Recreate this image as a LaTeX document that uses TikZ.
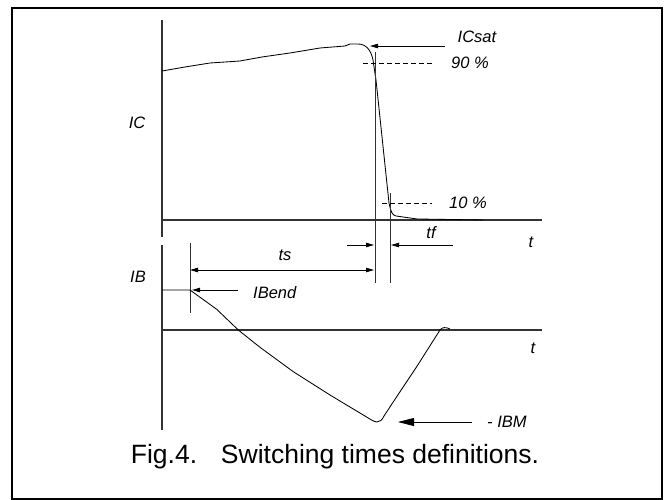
\documentclass[tikz,border=0pt]{standalone}
\usepackage{fontspec}
\setmainfont{Liberation Sans}
\usetikzlibrary{arrows.meta}
\begin{document}
\begin{tikzpicture}[x=1pt,y=-1pt,
  axis/.style={line width=1.1pt,draw=black!80},
  curve/.style={line width=0.85pt,black},
  marker/.style={line width=0.9pt,draw=black!80},
  dashline/.style={line width=0.8pt,dash pattern=on 5pt off 3pt},
  arr/.style={line width=0.8pt,-{Triangle[length=8pt,width=4.5pt]}},
  bigarr/.style={line width=0.8pt,-{Triangle[length=16pt,width=8pt]}},
  lbl/.style={font=\fontsize{16.5}{18}\selectfont\itshape,inner sep=0pt},
  captext/.style={font=\fontsize{26.5}{29}\selectfont,inner sep=0pt,anchor=base}]
\useasboundingbox (0,0) rectangle (665,500);
\fill[white] (0,0) rectangle (665,500);
\node[draw,line width=2pt,minimum width=650pt,minimum height=491pt,anchor=north west,inner sep=0pt] (frame) at (11,7) {};

% axes
\coordinate (ica0) at (162,20);
\coordinate (ica1) at (162,237);
\coordinate (ith0) at (162,220);
\coordinate (ith1) at (542,220);
\coordinate (iba0) at (162,245);
\coordinate (iba1) at (162,430);
\coordinate (ibh0) at (162,330);
\coordinate (ibh1) at (542,330);
\draw[axis] (ica0) -- (ica1);
\draw[axis] (ith0) -- (ith1);
\draw[axis] (iba0) -- (iba1);
\draw[axis] (ibh0) -- (ibh1);

% IC curve
\draw[curve] (162,71) -- (185,67) -- (210,63) -- (240,61) -- (262,57) -- (290,53) -- (320,48) -- (345,46) -- (350,44) -- (358,44)
  .. controls (366,44) and (371,50) .. (373,60) -- (376,80) -- (389,203) .. controls (391,212) and (392,215) .. (396,216) -- (417,219) -- (483,220);

% marker lines
\coordinate (v1t) at (375,52);
\coordinate (v1b) at (375,283);
\coordinate (v2t) at (390,193);
\coordinate (v2b) at (390,283);
\draw[marker] (v1t) -- (v1b);
\draw[marker] (v2t) -- (v2b);

% dashed levels
\coordinate (d90a) at (363,63);
\coordinate (d90b) at (432,63);
\coordinate (d10a) at (382,203);
\coordinate (d10b) at (432,203);
\draw[dashline] (d90a) -- (d90b);
\draw[dashline] (d10a) -- (d10b);

% labels
\node[lbl] (icsat) at (477,37) {ICsat};
\node[lbl] (p90) at (470,63) {90 \%};
\node[lbl] (p10) at (468,203) {10 \%};
\node[lbl] (ic) at (137,123) {IC};
\node[lbl] (ib) at (138,277) {IB};
\node[lbl] (t1) at (531,242) {t};
\node[lbl] (t2) at (533,348) {t};
\node[lbl] (tf) at (431,233) {tf};
\node[lbl] (ts) at (285,255) {ts};
\node[lbl,anchor=west] (ibend) at (253,293) {IBend};
\node[lbl,anchor=west] (ibm) at (487,422) {- IBM};

% ICsat arrow
\coordinate (icsatS) at (445,46);
\coordinate (icsatE) at (370,46);
\draw[arr] (icsatS) -- (icsatE);

% tf arrows
\coordinate (tfLa) at (347,245);
\coordinate (tfLb) at (374,245);
\coordinate (tfRa) at (453,245);
\coordinate (tfRb) at (391,245);
\draw[arr] (tfLa) -- (tfLb);
\draw[arr] (tfRa) -- (tfRb);

% ts double arrow
\coordinate (tsA) at (190,270);
\coordinate (tsB) at (374,270);
\draw[line width=0.8pt,{Triangle[length=8pt,width=4.5pt]}-{Triangle[length=8pt,width=4.5pt]}] (tsA) -- (tsB);

% IBend marker
\coordinate (ibvT) at (190,243);
\coordinate (ibvB) at (190,313);
\draw[marker] (ibvT) -- (ibvB);
\coordinate (ibendS) at (238,290);
\coordinate (ibendE) at (192,290);
\draw[arr] (ibendS) -- (ibendE);

% IB curve
\draw[curve] (162,290) -- (190,290) -- (216.7,309.3) -- (238.3,330) -- (260,347.3) -- (293.3,371.7) -- (330,395) -- (363.3,415)
  .. controls (370,419) and (374,422) .. (377,422) .. controls (380,422) and (382,420) .. (384,416)
  -- (396.7,396.7) -- (416.7,366.7) -- (440,330) .. controls (442,327) and (446,327) .. (450,329);

% -IBM arrow
\coordinate (ibmS) at (472,422);
\coordinate (ibmE) at (398,422);
\draw[bigarr] (ibmS) -- (ibmE);

% caption
\node[captext] (caption) at (335,463) {Fig.4.\hspace{0.9em}Switching times definitions.};
\end{tikzpicture}
\end{document}
